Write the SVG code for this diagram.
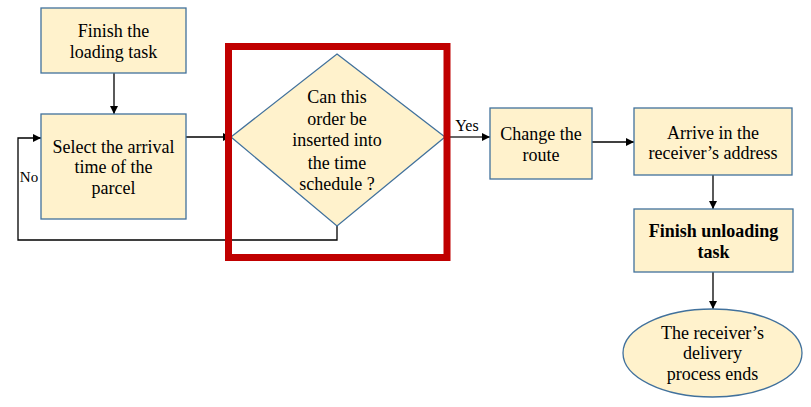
<svg xmlns="http://www.w3.org/2000/svg" width="811" height="407" viewBox="0 0 811 407">
<style>
.box{fill:#FFF2CC;stroke:#41719C;stroke-width:1.3}
.t{font-family:"Liberation Serif","Times New Roman",serif;font-size:18px;fill:#000;text-anchor:middle}
.b{font-weight:bold}
.c{fill:none;stroke:#000;stroke-width:1.3}
.lbl{font-family:"Liberation Serif","Times New Roman",serif;fill:#000}
</style>
<defs>
<marker id="ah" viewBox="0 0 10 10" refX="10" refY="5" markerWidth="8" markerHeight="8" markerUnits="userSpaceOnUse" orient="auto">
<path d="M0,0 L10,5 L0,10 z" fill="#000"/>
</marker>
</defs>
<rect width="811" height="407" fill="#fff"/>
<g id="connectors">
<line class="c" x1="114" y1="73" x2="114" y2="114" marker-end="url(#ah)"/>
<line class="c" x1="186" y1="137" x2="231" y2="137" marker-end="url(#ah)"/>
<polyline class="c" points="337,226 337,240 18,240 18,138 41,138" marker-end="url(#ah)"/>
<line class="c" x1="445" y1="137" x2="490" y2="137" marker-end="url(#ah)" style="stroke:#333"/>
<line class="c" x1="592" y1="142" x2="634" y2="142" marker-end="url(#ah)"/>
<line class="c" x1="713" y1="175" x2="713" y2="209" marker-end="url(#ah)"/>
<line class="c" x1="713" y1="272" x2="713" y2="309" marker-end="url(#ah)"/>
<text class="lbl" x="467" y="131" font-size="16" text-anchor="middle">Yes</text>
<text class="lbl" x="29" y="182" font-size="15" text-anchor="middle">No</text>
</g>
<g id="n1">
<rect class="box" x="41" y="8" width="145" height="65"/>
<text class="t" x="113.5" y="37">Finish the</text>
<text class="t" x="113.5" y="58">loading task</text>
</g>
<g id="n2">
<rect class="box" x="41" y="114" width="145" height="105"/>
<text class="t" x="113.5" y="153">Select the arrival</text>
<text class="t" x="113.5" y="173">time of the</text>
<text class="t" x="113.5" y="194">parcel</text>
</g>
<g id="n3">
<polygon class="box" points="337,54 445,137 337,226 231,137"/>
<text class="t" x="337" y="103">Can this</text>
<text class="t" x="337" y="125">order be</text>
<text class="t" x="337" y="146">inserted into</text>
<text class="t" x="337" y="169">the time</text>
<text class="t" x="337" y="190">schedule ?</text>
</g>
<g id="highlight">
<rect x="228.5" y="46.5" width="218.5" height="211" fill="none" stroke="#C00000" stroke-width="7"/>
</g>
<g id="n4">
<rect class="box" x="490" y="108" width="102" height="71"/>
<text class="t" x="541" y="140">Change the</text>
<text class="t" x="541" y="161">route</text>
</g>
<g id="n5">
<rect class="box" x="634" y="108" width="158" height="67"/>
<text class="t" x="713" y="139">Arrive in the</text>
<text class="t" x="713" y="159">receiver’s address</text>
</g>
<g id="n6">
<rect class="box" x="634" y="209" width="159" height="63"/>
<text class="t b" x="713.5" y="237">Finish unloading</text>
<text class="t b" x="713.5" y="258">task</text>
</g>
<g id="n7">
<ellipse class="box" cx="712.5" cy="353" rx="89.5" ry="44"/>
<text class="t" x="712.5" y="339">The receiver’s</text>
<text class="t" x="712.5" y="359">delivery</text>
<text class="t" x="712.5" y="380">process ends</text>
</g>
</svg>
